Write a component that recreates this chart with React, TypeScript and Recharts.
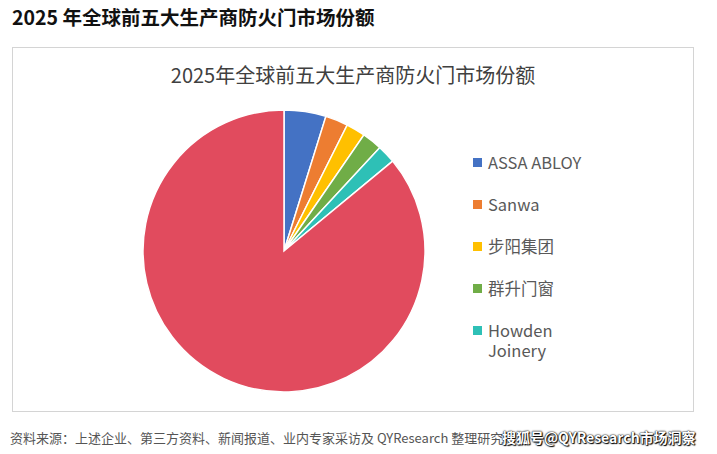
import { PieChart, Pie, Cell, Legend } from "recharts";

const companies = ["ASSA ABLOY", "Sanwa", "步阳集团", "群升门窗", "Howden Joinery", "其他"];
const shares = [4.8, 2.6, 2.2, 2.3, 2.1, 86.0];
const COLORS = ["#4472C4", "#ED7D31", "#FFC000", "#70AD47", "#2EC0B6", "#E14B5E"];
const legendNames = companies.slice(0, 5);

const data = companies.map((name, i) => ({ name, value: shares[i] }));

const FONT = '"Noto Sans CJK SC", "Noto Sans", sans-serif';

// recharts sorts the legend payload, so put it back in slice order and drop "其他"
const renderLegend = (props: any) => {
  const items = (props.payload || [])
    .filter((p: any) => legendNames.includes(p.value))
    .sort((a: any, b: any) => legendNames.indexOf(a.value) - legendNames.indexOf(b.value));
  return (
    <div style={{ fontFamily: FONT }}>
      {items.map((p: any, i: number) => (
        <div
          key={`lg-${i}`}
          style={{ display: "flex", alignItems: "flex-start", minHeight: 42, color: "#595959", fontSize: 16.5 }}
        >
          <span
            style={{ width: 9, height: 9, background: p.color, marginTop: 6, marginRight: 6, flexShrink: 0 }}
          />
          <span style={{ width: 110, lineHeight: "20px" }}>{p.value}</span>
        </div>
      ))}
    </div>
  );
};

const App = () => {
  return (
    <div style={{ position: "absolute", left: 0, top: 0, width: 717, height: 454, background: "#fff", overflow: "hidden" }}>
      <div
        style={{
          position: "absolute",
          left: 12,
          top: 2,
          fontFamily: FONT,
          fontWeight: 700,
          fontSize: 19.5,
          color: "#111",
        }}
      >
        2025 年全球前五大生产商防火门市场份额
      </div>
      <div
        style={{
          position: "absolute",
          left: 12,
          top: 47,
          width: 682,
          height: 365,
          border: "1px solid #d4d4d4",
          boxSizing: "border-box",
        }}
      />
      <div
        style={{
          position: "absolute",
          left: 12,
          width: 682,
          top: 60,
          textAlign: "center",
          fontFamily: FONT,
          fontSize: 20,
          color: "#404040",
        }}
      >
        2025年全球前五大生产商防火门市场份额
      </div>
      <div style={{ position: "absolute", left: 0, top: 0 }}>
        <PieChart width={717} height={454} margin={{ top: 0, right: 0, bottom: 0, left: 0 }}>
          <Pie
            data={data}
            dataKey="value"
            nameKey="name"
            cx={284}
            cy={251}
            outerRadius={141}
            startAngle={90}
            endAngle={-270}
            stroke="#fff"
            strokeWidth={1.5}
            isAnimationActive={false}
          >
            {data.map((entry, index) => (
              <Cell key={`cell-${index}`} fill={COLORS[index % COLORS.length]} />
            ))}
          </Pie>
          <Legend
            layout="vertical"
            content={renderLegend}
            wrapperStyle={{ left: 473, top: 152, width: 135 }}
          />
        </PieChart>
      </div>
      <div
        style={{
          position: "absolute",
          left: 10,
          top: 428,
          fontFamily: FONT,
          fontSize: 13,
          color: "#555",
          whiteSpace: "nowrap",
        }}
      >
        资料来源：上述企业、第三方资料、新闻报道、业内专家采访及 QYResearch 整理研究
      </div>
      <div
        style={{
          position: "absolute",
          left: 502,
          top: 427,
          fontFamily: FONT,
          fontSize: 14,
          fontWeight: 700,
          color: "#fff",
          whiteSpace: "nowrap",
          textShadow: "0 0 2px #000, 0 0 1px #000, 1px 1px 1px #000",
        }}
      >
        搜狐号@QYResearch市场洞察
      </div>
    </div>
  );
};

export default App;
